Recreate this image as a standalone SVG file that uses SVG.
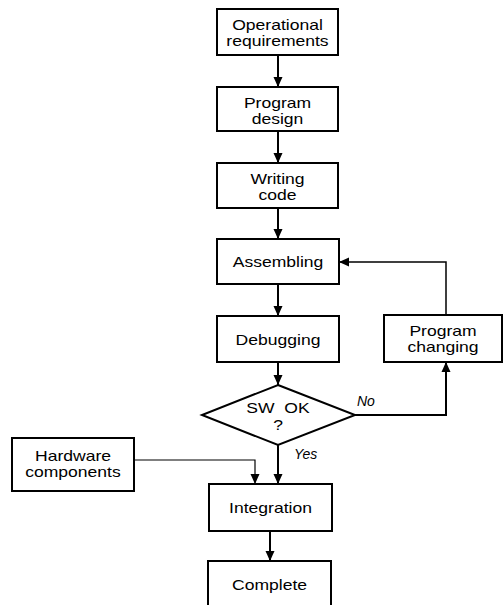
<svg xmlns="http://www.w3.org/2000/svg" width="504" height="605" viewBox="0 0 504 605">
<defs>
<marker id="ah" viewBox="0 0 10 10" refX="10" refY="5" markerWidth="10" markerHeight="10" markerUnits="userSpaceOnUse" orient="auto">
<path d="M0,0.5 L10,5 L0,9.5 Z" fill="#000"/>
</marker>
<style>
.box{fill:#fff;stroke:#000;stroke-width:2}
.t{font-family:"Liberation Sans",Arial,sans-serif;font-size:14.5px;text-anchor:middle;fill:#000}
.lab{font-family:"Liberation Sans",Arial,sans-serif;font-size:14px;font-style:italic;fill:#000}
.c{fill:none;stroke:#000;stroke-width:2}
.thin{fill:none;stroke:#000;stroke-width:1.2}
.ws{word-spacing:4px}
</style>
</defs>
<rect width="504" height="605" fill="#fff"/>
<g id="connectors">
<path class="c" d="M278,55 V87" marker-end="url(#ah)"/>
<path class="c" d="M278,131 V163" marker-end="url(#ah)"/>
<path class="c" d="M278,208 V239" marker-end="url(#ah)"/>
<path class="c" d="M278,284 V316" marker-end="url(#ah)"/>
<path class="c" d="M278,362 V385" marker-end="url(#ah)"/>
<path class="c" d="M278,445 V484" marker-end="url(#ah)"/>
<path class="thin" d="M134,460 H255 V484" marker-end="url(#ah)"/>
<path class="c" d="M355,415 H446 V362" marker-end="url(#ah)"/>
<path class="thin" d="M446,315 V262 H339" marker-end="url(#ah)" style="stroke-width:1.5"/>
<path class="c" d="M270,531 V561" marker-end="url(#ah)"/>
<text class="lab" x="357" y="406">No</text>
<text class="lab" x="294" y="459">Yes</text>
</g>
<g id="operational">
<rect class="box" x="217" y="9" width="121" height="46"/>
<text class="t" transform="translate(277.5,29.5) scale(1.21,1)"><tspan x="0" y="0">Operational</tspan><tspan x="0" y="16.5">requirements</tspan></text>
</g>
<g id="program-design">
<rect class="box" x="217" y="87" width="121" height="44"/>
<text class="t" transform="translate(277.5,108) scale(1.21,1)"><tspan x="0" y="0">Program</tspan><tspan x="0" y="16.5">design</tspan></text>
</g>
<g id="writing-code">
<rect class="box" x="217" y="163" width="121" height="45"/>
<text class="t" transform="translate(277.5,184) scale(1.21,1)"><tspan x="0" y="0">Writing</tspan><tspan x="0" y="16.5">code</tspan></text>
</g>
<g id="assembling">
<rect class="box" x="217" y="239" width="122" height="45"/>
<text class="t" transform="translate(278,267) scale(1.21,1)">Assembling</text>
</g>
<g id="debugging">
<rect class="box" x="217" y="316" width="122" height="46"/>
<text class="t" transform="translate(278,344.5) scale(1.21,1)">Debugging</text>
</g>
<g id="program-changing">
<rect class="box" x="384" y="315" width="118" height="47"/>
<text class="t" transform="translate(443,335.5) scale(1.21,1)"><tspan x="0" y="0">Program</tspan><tspan x="0" y="16.5">changing</tspan></text>
</g>
<g id="sw-ok">
<polygon class="box" points="278,385 355,415 278,445 202,415"/>
<text class="t" transform="translate(278,413) scale(1.21,1)"><tspan class="ws" x="0" y="0">SW OK</tspan><tspan x="0" y="17">?</tspan></text>
</g>
<g id="hardware">
<rect class="box" x="12" y="438" width="122" height="53"/>
<text class="t" transform="translate(73,460.5) scale(1.21,1)"><tspan x="0" y="0">Hardware</tspan><tspan x="0" y="17">components</tspan></text>
</g>
<g id="integration">
<rect class="box" x="209" y="484" width="123" height="47"/>
<text class="t" transform="translate(270.5,513) scale(1.21,1)">Integration</text>
</g>
<g id="complete">
<rect class="box" x="208" y="561" width="123" height="60"/>
<text class="t" transform="translate(269.5,590) scale(1.21,1)">Complete</text>
</g>
</svg>
